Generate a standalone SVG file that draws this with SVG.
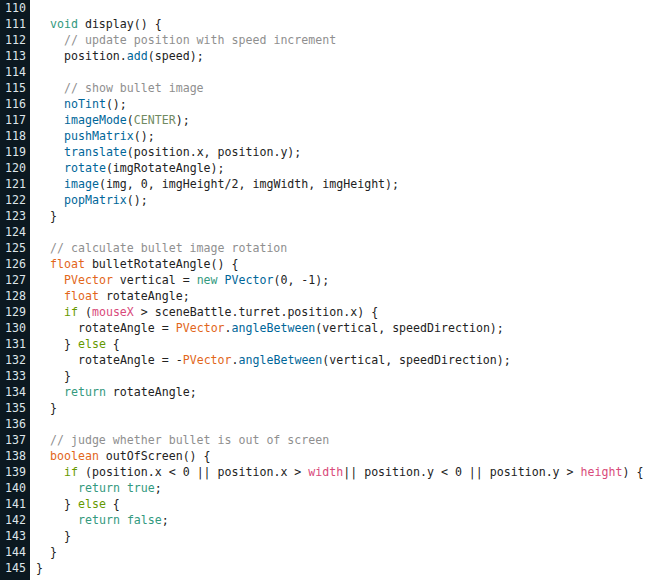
<svg xmlns="http://www.w3.org/2000/svg" width="654" height="580" viewBox="0 0 654 580">
<style>
.ln{font-family:"DejaVu Sans Mono","Liberation Mono",monospace;font-size:11.6px;fill:#dfe6ea;text-anchor:end}
.c{font-family:"DejaVu Sans Mono","Liberation Mono",monospace;font-size:11.6px;fill:#222222;white-space:pre}
.cm{fill:#8f8f8f}
.kw{fill:#33997e}
.ty{fill:#e2661a}
.fn{fill:#006699}
.cn{fill:#718a62}
.ctl{fill:#669900}
.var{fill:#d94a7a}
</style>
<rect x="0" y="0" width="654" height="580" fill="#ffffff"/>
<rect x="0" y="0" width="30" height="580" fill="#0b1820"/>
<g id="line-numbers">
<text class="ln" x="26" y="12">110</text>
<text class="ln" x="26" y="28">111</text>
<text class="ln" x="26" y="44">112</text>
<text class="ln" x="26" y="60">113</text>
<text class="ln" x="26" y="76">114</text>
<text class="ln" x="26" y="92">115</text>
<text class="ln" x="26" y="108">116</text>
<text class="ln" x="26" y="124">117</text>
<text class="ln" x="26" y="140">118</text>
<text class="ln" x="26" y="156">119</text>
<text class="ln" x="26" y="172">120</text>
<text class="ln" x="26" y="188">121</text>
<text class="ln" x="26" y="204">122</text>
<text class="ln" x="26" y="220">123</text>
<text class="ln" x="26" y="236">124</text>
<text class="ln" x="26" y="252">125</text>
<text class="ln" x="26" y="268">126</text>
<text class="ln" x="26" y="284">127</text>
<text class="ln" x="26" y="300">128</text>
<text class="ln" x="26" y="316">129</text>
<text class="ln" x="26" y="332">130</text>
<text class="ln" x="26" y="348">131</text>
<text class="ln" x="26" y="364">132</text>
<text class="ln" x="26" y="380">133</text>
<text class="ln" x="26" y="396">134</text>
<text class="ln" x="26" y="412">135</text>
<text class="ln" x="26" y="428">136</text>
<text class="ln" x="26" y="444">137</text>
<text class="ln" x="26" y="460">138</text>
<text class="ln" x="26" y="476">139</text>
<text class="ln" x="26" y="492">140</text>
<text class="ln" x="26" y="508">141</text>
<text class="ln" x="26" y="524">142</text>
<text class="ln" x="26" y="540">143</text>
<text class="ln" x="26" y="556">144</text>
<text class="ln" x="26" y="572">145</text>
</g>
<g id="code" xml:space="preserve">
<text class="c" x="50" y="28"><tspan class="kw">void</tspan> display() {</text>
<text class="c" x="64" y="44"><tspan class="cm">// update position with speed increment</tspan></text>
<text class="c" x="64" y="60">position.<tspan class="fn">add</tspan>(speed);</text>
<text class="c" x="64" y="92"><tspan class="cm">// show bullet image</tspan></text>
<text class="c" x="64" y="108"><tspan class="fn">noTint</tspan>();</text>
<text class="c" x="64" y="124"><tspan class="fn">imageMode</tspan>(<tspan class="cn">CENTER</tspan>);</text>
<text class="c" x="64" y="140"><tspan class="fn">pushMatrix</tspan>();</text>
<text class="c" x="64" y="156"><tspan class="fn">translate</tspan>(position.x, position.y);</text>
<text class="c" x="64" y="172"><tspan class="fn">rotate</tspan>(imgRotateAngle);</text>
<text class="c" x="64" y="188"><tspan class="fn">image</tspan>(img, 0, imgHeight/2, imgWidth, imgHeight);</text>
<text class="c" x="64" y="204"><tspan class="fn">popMatrix</tspan>();</text>
<text class="c" x="50" y="220">}</text>
<text class="c" x="50" y="252"><tspan class="cm">// calculate bullet image rotation</tspan></text>
<text class="c" x="50" y="268"><tspan class="ty">float</tspan> bulletRotateAngle() {</text>
<text class="c" x="64" y="284"><tspan class="ty">PVector</tspan> vertical = <tspan class="kw">new</tspan> <tspan class="fn">PVector</tspan>(0, -1);</text>
<text class="c" x="64" y="300"><tspan class="ty">float</tspan> rotateAngle;</text>
<text class="c" x="64" y="316"><tspan class="ctl">if</tspan> (<tspan class="var">mouseX</tspan> &gt; sceneBattle.turret.position.x) {</text>
<text class="c" x="78" y="332">rotateAngle = <tspan class="ty">PVector</tspan>.<tspan class="fn">angleBetween</tspan>(vertical, speedDirection);</text>
<text class="c" x="64" y="348">} <tspan class="ctl">else</tspan> {</text>
<text class="c" x="78" y="364">rotateAngle = -<tspan class="ty">PVector</tspan>.<tspan class="fn">angleBetween</tspan>(vertical, speedDirection);</text>
<text class="c" x="64" y="380">}</text>
<text class="c" x="64" y="396"><tspan class="kw">return</tspan> rotateAngle;</text>
<text class="c" x="50" y="412">}</text>
<text class="c" x="50" y="444"><tspan class="cm">// judge whether bullet is out of screen</tspan></text>
<text class="c" x="50" y="460"><tspan class="ty">boolean</tspan> outOfScreen() {</text>
<text class="c" x="64" y="476"><tspan class="ctl">if</tspan> (position.x &lt; 0 || position.x &gt; <tspan class="var">width</tspan>|| position.y &lt; 0 || position.y &gt; <tspan class="var">height</tspan>) {</text>
<text class="c" x="78" y="492"><tspan class="kw">return</tspan> <tspan class="kw">true</tspan>;</text>
<text class="c" x="64" y="508">} <tspan class="ctl">else</tspan> {</text>
<text class="c" x="78" y="524"><tspan class="kw">return</tspan> <tspan class="kw">false</tspan>;</text>
<text class="c" x="64" y="540">}</text>
<text class="c" x="50" y="556">}</text>
<text class="c" x="36" y="572">}</text>
</g>
</svg>
